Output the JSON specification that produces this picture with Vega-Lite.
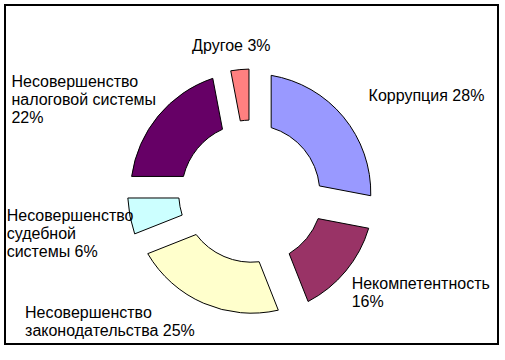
{
  "$schema": "https://vega.github.io/schema/vega-lite/v6.json",
  "width": 493,
  "height": 339,
  "autosize": {"type": "none"},
  "padding": {"left": 5, "top": 5, "right": 7, "bottom": 16},
  "background": "white",
  "view": {"stroke": "black", "strokeWidth": 2, "cornerRadius": 0},
  "config": {
    "view": {"stroke": "black", "strokeWidth": 2},
    "text": {"font": "Liberation Sans", "fontSize": 16}
  },
  "data": {
    "values": [
      {"n": 1, "category": "Коррупция", "value": 28, "label": "Коррупция 28%"},
      {"n": 2, "category": "Некомпетентность", "value": 16, "label": "Некомпетентность\n16%"},
      {"n": 3, "category": "Несовершенство законодательства", "value": 25, "label": "Несовершенство\nзаконодательства 25%"},
      {"n": 4, "category": "Несовершенство судебной системы", "value": 6, "label": "Несовершенство\nсудебной\nсистемы 6%"},
      {"n": 5, "category": "Несовершенство налоговой системы", "value": 22, "label": "Несовершенство\nналоговой системы\n22%"},
      {"n": 6, "category": "Другое", "value": 3, "label": "Другое 3%"}
    ]
  },
  "encoding": {
    "theta": {"field": "value", "type": "quantitative", "stack": true, "scale": {"domain": [0, 100]}},
    "order": {"field": "n", "type": "quantitative"}
  },
  "layer": [
    {
      "mark": {
        "type": "arc",
        "stroke": "black",
        "strokeWidth": 1,
        "yOffset": 18.5,
        "radius": {"expr": "111 + 13*cos(PI*datum.value/100)"},
        "radius2": {"expr": "60 + 13*cos(PI*datum.value/100)"},
        "padAngle": {"expr": "2*asin(26*sin(PI*datum.value/100)/140)"}
      },
      "encoding": {
        "color": {
          "field": "category",
          "type": "nominal",
          "scale": {
            "domain": ["Коррупция", "Некомпетентность", "Несовершенство законодательства", "Несовершенство судебной системы", "Несовершенство налоговой системы", "Другое"],
            "range": ["#9999FF", "#993366", "#FFFFCC", "#CCFFFF", "#660066", "#FF8080"]
          },
          "legend": null
        }
      }
    },
    {
      "mark": {"type": "text", "radius": 152, "align": "left", "baseline": "middle", "yOffset": 18.5, "lineBreak": "\n", "lineHeight": 18, "color": "black"},
      "encoding": {"text": {"field": "label"}, "detail": {"field": "category"}, "opacity": {"condition": {"test": "datum.n == 1", "value": 1}, "value": 0}}
    },
    {
      "mark": {"type": "text", "radius": 130, "align": "left", "baseline": "top", "yOffset": 18.5, "lineBreak": "\n", "lineHeight": 18, "color": "black"},
      "encoding": {"text": {"field": "label"}, "detail": {"field": "category"}, "opacity": {"condition": {"test": "datum.n == 2", "value": 1}, "value": 0}}
    },
    {
      "mark": {"type": "text", "radius": 122, "align": "left", "baseline": "top", "dx": -178, "yOffset": 18.5, "lineBreak": "\n", "lineHeight": 18, "color": "black"},
      "encoding": {"text": {"field": "label"}, "detail": {"field": "category"}, "opacity": {"condition": {"test": "datum.n == 3", "value": 1}, "value": 0}}
    },
    {
      "mark": {"type": "text", "radius": 123, "align": "left", "baseline": "middle", "dx": -124, "yOffset": 18.5, "lineBreak": "\n", "lineHeight": 18, "color": "black"},
      "encoding": {"text": {"field": "label"}, "detail": {"field": "category"}, "opacity": {"condition": {"test": "datum.n == 4", "value": 1}, "value": 0}}
    },
    {
      "mark": {"type": "text", "radius": 174, "align": "left", "baseline": "middle", "dx": -106, "yOffset": 18.5, "lineBreak": "\n", "lineHeight": 18, "color": "black"},
      "encoding": {"text": {"field": "label"}, "detail": {"field": "category"}, "opacity": {"condition": {"test": "datum.n == 5", "value": 1}, "value": 0}}
    },
    {
      "mark": {"type": "text", "radius": 140, "align": "center", "baseline": "bottom", "dx": -7, "yOffset": 18.5, "lineBreak": "\n", "lineHeight": 18, "color": "black"},
      "encoding": {"text": {"field": "label"}, "detail": {"field": "category"}, "opacity": {"condition": {"test": "datum.n == 6", "value": 1}, "value": 0}}
    }
  ]
}
